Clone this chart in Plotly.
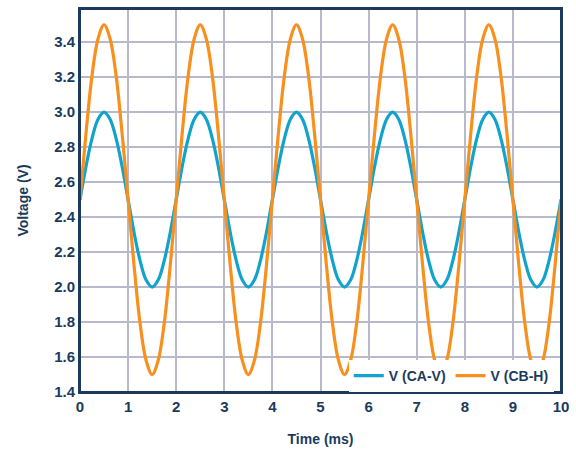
import plotly.graph_objects as go

time_ms = [i * 0.125 for i in range(81)]

# one period (16 samples), repeated over 5 periods
ca_v_period = [2.50, 2.69, 2.85, 2.96, 3.00, 2.96, 2.85, 2.69,
               2.50, 2.31, 2.15, 2.04, 2.00, 2.04, 2.15, 2.31]
cb_h_period = [2.50, 2.88, 3.21, 3.42, 3.50, 3.42, 3.21, 2.88,
               2.50, 2.12, 1.79, 1.58, 1.50, 1.58, 1.79, 2.12]
ca_v = ca_v_period * 5 + [2.50]
cb_h = cb_h_period * 5 + [2.50]

x_ticks = [0, 1, 2, 3, 4, 5, 6, 7, 8, 9, 10]
y_ticks = [1.4, 1.6, 1.8, 2.0, 2.2, 2.4, 2.6, 2.8, 3.0, 3.2, 3.4]

navy = "#1b3a5c"
grid = "#b9b9cc"
fam = "Liberation Sans, Arial, sans-serif"

fig = go.Figure()
fig.add_trace(go.Scatter(x=time_ms, y=ca_v, mode="lines", name="V (CA-V)",
                         line=dict(color="#12a3cc", width=3.2, shape="spline")))
fig.add_trace(go.Scatter(x=time_ms, y=cb_h, mode="lines", name="V (CB-H)",
                         line=dict(color="#f7901e", width=3.2, shape="spline")))

fig.add_shape(type="rect", xref="paper", yref="paper", x0=0, y0=0, x1=1, y1=1,
              line=dict(color=navy, width=2), fillcolor="rgba(0,0,0,0)", layer="above")

fig.update_layout(
    width=576, height=451,
    margin=dict(l=80, r=15, t=9, b=59),
    paper_bgcolor="white", plot_bgcolor="white",
    font=dict(family=fam, color=navy, size=14, weight="bold"),
    showlegend=True,
    legend=dict(orientation="h", x=0.985, y=0.0, xanchor="right", yanchor="bottom",
                bgcolor="white", borderwidth=0,
                font=dict(size=14, color=navy, family=fam, weight="bold"),
                itemwidth=30, tracegroupgap=0),
    xaxis=dict(range=[0, 10], tickvals=x_ticks,
               tickfont=dict(size=15, color=navy, family=fam, weight="bold"),
               showgrid=True, gridcolor=grid, gridwidth=1.5,
               showline=True, linecolor=navy, linewidth=2, mirror=True,
               ticks="", zeroline=False, automargin=False,
               title=dict(text="Time (ms)", font=dict(size=14, color=navy, family=fam, weight="bold"),
                          standoff=20)),
    yaxis=dict(range=[1.4, 3.59], tickvals=y_ticks, tickformat=".1f",
               tickfont=dict(size=15, color=navy, family=fam, weight="bold"),
               showgrid=True, gridcolor=grid, gridwidth=1.5,
               showline=True, linecolor=navy, linewidth=2, mirror=True,
               ticks="", zeroline=False, automargin=False,
               title=dict(text="Voltage (V)", font=dict(size=14, color=navy, family=fam, weight="bold"),
                          standoff=22)),
)

fig.write_html("out.html", config={"displayModeBar": False},
               post_script="document.body.style.margin='0';")
